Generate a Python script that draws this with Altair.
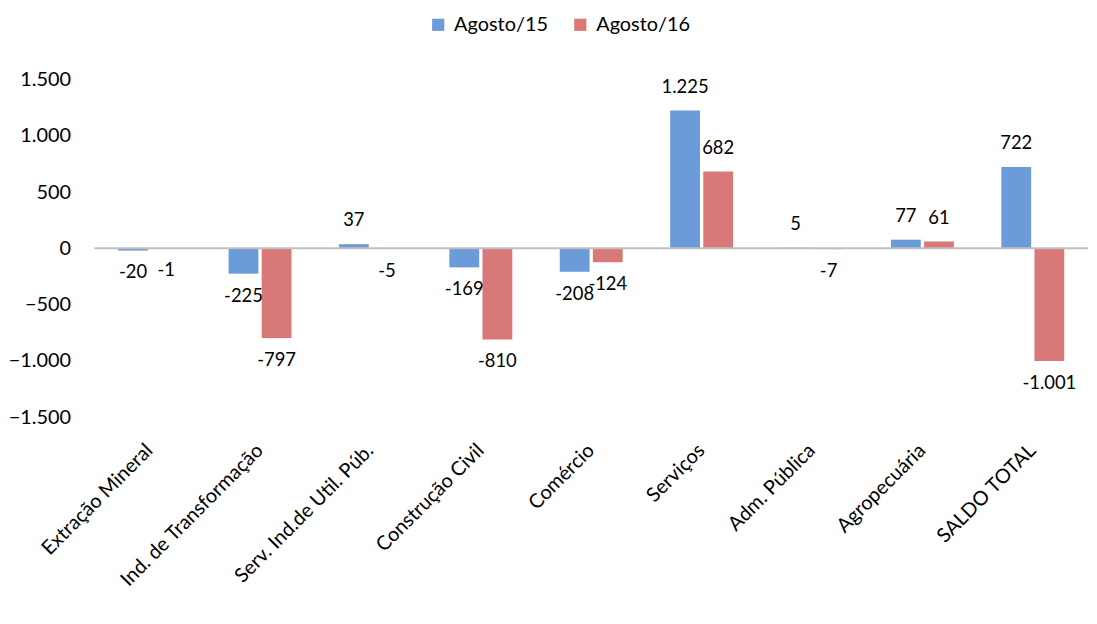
import altair as alt
import pandas as pd

categories = ["Extração Mineral", "Ind. de Transformação", "Serv. Ind.de Util. Púb.",
              "Construção Civil", "Comércio", "Serviços", "Adm. Pública",
              "Agropecuária", "SALDO TOTAL"]
series = ["Agosto/15", "Agosto/16"]
ago15 = [-20, -225, 37, -169, -208, 1225, 5, 77, 722]
ago16 = [-1, -797, -5, -810, -124, 682, -7, 61, -1001]
colors = ["#6b9bd8", "#d97878"]
y_ticks = [-1500, -1000, -500, 0, 500, 1000, 1500]

def fmt(v):
    s = f"{abs(v):,}".replace(",", ".")
    return ("-" if v < 0 else "") + s

rows = []
for c, a, b in zip(categories, ago15, ago16):
    rows.append({"cat": c, "serie": series[0], "v": a, "lab": fmt(a)})
    rows.append({"cat": c, "serie": series[1], "v": b, "lab": fmt(b)})
df = pd.DataFrame(rows)

FONT = "Lato"
FS = 20
LFS = 18.5

x = alt.X("cat:N", sort=categories, title=None,
          scale=alt.Scale(paddingInner=0.43, paddingOuter=0.215),
          axis=alt.Axis(labelAngle=-45, labelAlign="right", labelBaseline="middle",
                        labelFontSize=FS, labelFont=FONT, labelColor="#000000",
                        domain=False, ticks=False, labelPadding=30, labelLimit=400))
xo = alt.XOffset("serie:N", sort=series, scale=alt.Scale(paddingInner=0.1))
yscale = alt.Scale(domain=[-1500, 1500], nice=False)
y = alt.Y("v:Q", title=None, scale=yscale,
          axis=alt.Axis(values=y_ticks, grid=False, domain=False, ticks=False,
                        labelFontSize=FS, labelFont=FONT, labelColor="#000000",
                        labelPadding=24,
                        labelExpr="replace(format(datum.value, ','), ',', '.')"))

base = alt.Chart(df)

bars = base.mark_bar(stroke=None).encode(
    x=x, xOffset=xo, y=y,
    color=alt.Color("serie:N", sort=series,
                    scale=alt.Scale(domain=series, range=colors),
                    legend=alt.Legend(title=None, orient="none", direction="horizontal",
                                      legendX=336, legendY=-65,
                                      symbolType="square", symbolSize=150,
                                      symbolStrokeWidth=0,
                                      labelFontSize=FS, labelFont=FONT,
                                      labelColor="#000000", columnPadding=22,
                                      labelOffset=6)),
)

zero = alt.Chart(pd.DataFrame({"z": [0]})).mark_rule(color="#bfbfbf", strokeWidth=2).encode(
    y=alt.Y("z:Q", scale=yscale)
)

pos = base.transform_filter("datum.v >= 0").mark_text(
    baseline="bottom", dy=-14, fontSize=LFS, font=FONT, color="#000000"
).encode(x=x, xOffset=xo, y=y, text="lab:N")

neg = base.transform_filter("datum.v < 0").mark_text(
    baseline="top", dy=13, fontSize=LFS, font=FONT, color="#000000"
).encode(x=x, xOffset=xo, y=y, text="lab:N")

chart = alt.layer(bars, zero, pos, neg).properties(
    width=1000, height=340,
    padding={"top": 5, "left": 0, "right": 0, "bottom": 5},
).configure_view(stroke=None)

chart.save("out.html", embed_options={"renderer": "svg", "actions": False})
